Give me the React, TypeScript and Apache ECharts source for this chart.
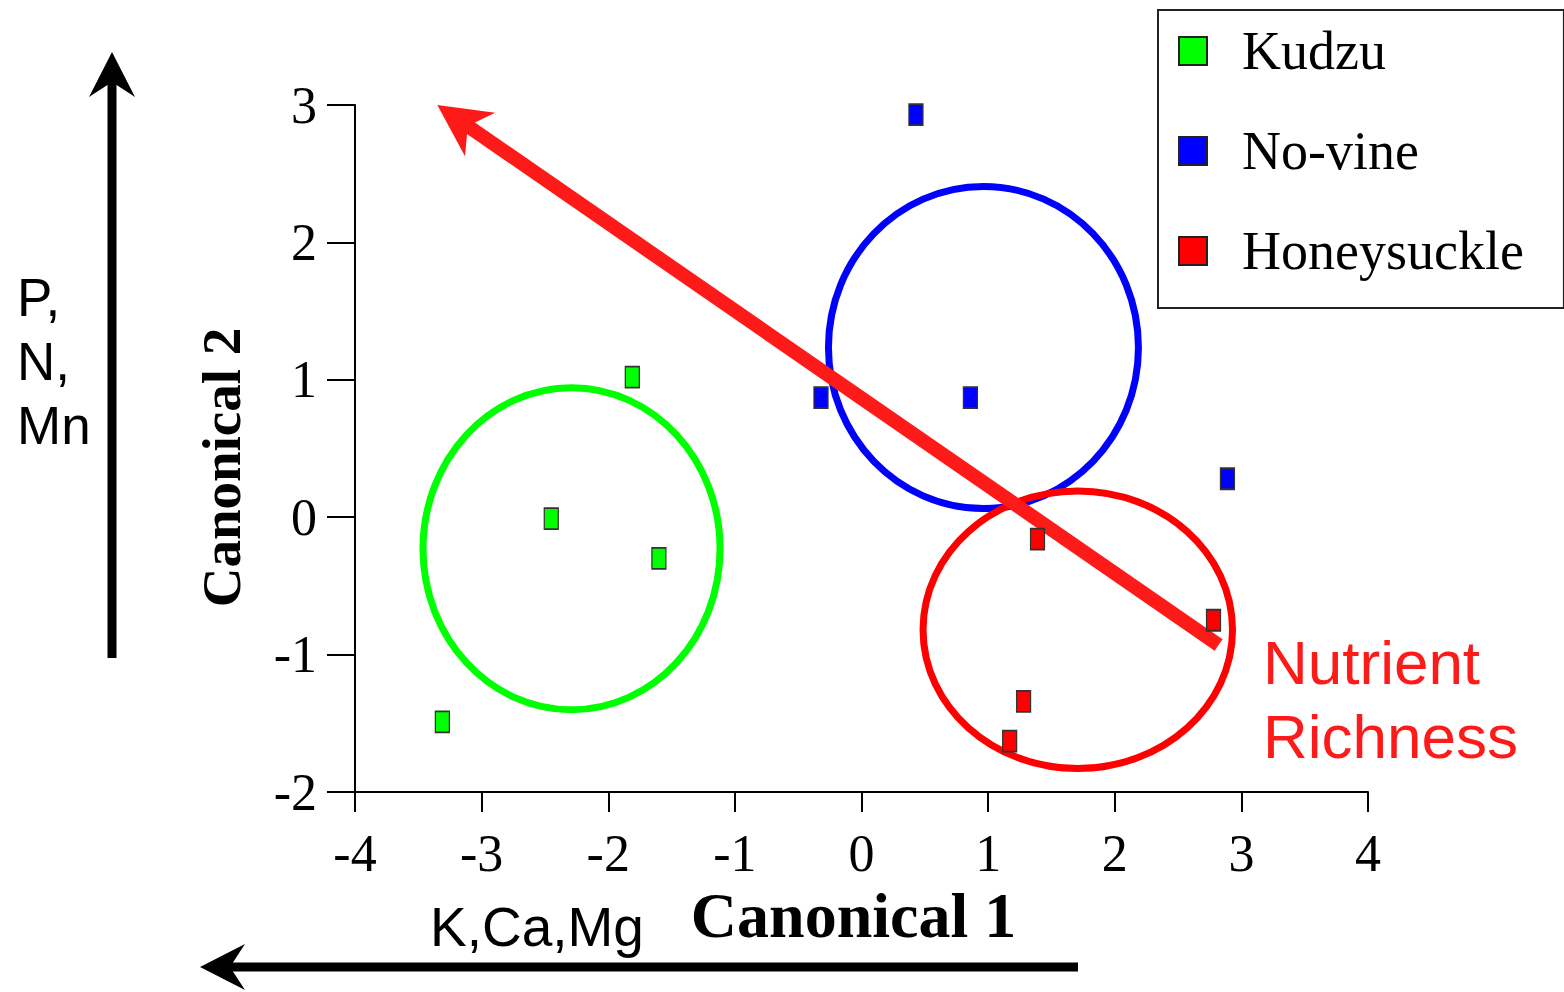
import React, { useEffect, useRef } from "react";
import * as echarts from "echarts";

// ---- data ----
const seriesNames = ["Kudzu", "No-vine", "Honeysuckle"];
const seriesColors = ["#00ff00", "#0000ff", "#ff0000"];

const kudzu = [
  [-1.81, 1.02],
  [-2.45, -0.01],
  [-1.6, -0.3],
  [-3.31, -1.49],
];
const noVine = [
  [0.43, 2.93],
  [-0.32, 0.87],
  [0.86, 0.87],
  [2.89, 0.28],
];
const honeysuckle = [
  [1.39, -0.16],
  [2.78, -0.75],
  [1.28, -1.34],
  [1.17, -1.63],
];

// group ellipses: [centerX, centerY, radiusX, radiusY] in data units
const groupEllipses = [
  [-2.29, -0.23, 1.173, 1.172],
  [0.963, 1.235, 1.224, 1.172],
  [1.708, -0.819, 1.222, 1.01],
];

// nutrient-richness vector: [fromX, fromY, toX, toY]
const nutrientVector = [[2.82, -0.93, -3.35, 3.0]];

const xMin = -4;
const xMax = 4;
const yMin = -2;
const yMax = 3;

const SERIF = '"Liberation Serif", "Times New Roman", Times, serif';
const SANS = '"Liberation Sans", Arial, Helvetica, sans-serif';
const VECTOR_RED = "#ff1a1a";

export default function App() {
  const ref = useRef<HTMLDivElement>(null);

  useEffect(() => {
    if (!ref.current) return;
    const chart = echarts.init(ref.current, null, { renderer: "svg" });

    const scatter = (name: string, data: number[][], color: string) => ({
      name,
      type: "scatter",
      data,
      symbol: "rect",
      symbolSize: [14, 21],
      z: 5,
      itemStyle: { color, borderColor: "#333333", borderWidth: 1.5, opacity: 1 },
    });

    const option: any = {
      animation: false,
      backgroundColor: "#ffffff",
      grid: { left: 355, right: 196, top: 105, bottom: 200, containLabel: false },
      legend: {
        data: seriesNames,
        orient: "vertical",
        left: 1158,
        top: 10,
        padding: [14, 40, 30, 20],
        itemGap: 46,
        itemWidth: 28,
        itemHeight: 28,
        icon: "rect",
        borderColor: "#222222",
        borderWidth: 2,
        itemStyle: { borderColor: "#222222", borderWidth: 2 },
        textStyle: {
          fontFamily: SERIF,
          fontSize: 54,
          lineHeight: 54,
          color: "#000000",
          padding: [0, 0, 0, 30],
        },
      },
      xAxis: {
        type: "value",
        min: xMin,
        max: xMax,
        interval: 1,
        name: "Canonical 1",
        nameLocation: "middle",
        nameGap: 86,
        nameTextStyle: {
          fontFamily: SERIF,
          fontWeight: "bold",
          fontSize: 64,
          color: "#000000",
          padding: [0, 16, 0, 0],
        },
        splitLine: { show: false },
        axisLine: { show: true, onZero: false, lineStyle: { color: "#000000", width: 2 } },
        axisTick: { show: true, inside: false, length: 20, lineStyle: { color: "#000000", width: 2 } },
        axisLabel: { margin: 35, fontFamily: SERIF, fontSize: 52, color: "#000000" },
      },
      yAxis: {
        type: "value",
        min: yMin,
        max: yMax,
        interval: 1,
        name: "Canonical 2",
        nameLocation: "middle",
        nameRotate: 90,
        nameGap: 106,
        nameTextStyle: {
          fontFamily: SERIF,
          fontWeight: "bold",
          fontSize: 55,
          color: "#000000",
          padding: [0, 38, 0, 0],
        },
        splitLine: { show: false },
        axisLine: { show: true, onZero: false, lineStyle: { color: "#000000", width: 2 } },
        axisTick: { show: true, inside: false, length: 28, lineStyle: { color: "#000000", width: 2 } },
        axisLabel: { margin: 38, fontFamily: SERIF, fontSize: 52, color: "#000000" },
      },
      series: [
        {
          name: "ellipses",
          type: "custom",
          z: 2,
          clip: false,
          silent: true,
          data: groupEllipses.map((e, i) => [...e, i]),
          encode: { x: 0, y: 1 },
          renderItem: (params: any, api: any) => {
            const c = api.coord([api.value(0), api.value(1)]);
            const s = api.size([api.value(2), api.value(3)]);
            const idx = api.value(4);
            return {
              type: "ellipse",
              shape: { cx: c[0], cy: c[1], rx: s[0], ry: s[1] },
              style: { fill: "none", stroke: seriesColors[idx], lineWidth: 7 },
            };
          },
        },
        {
          name: "vector",
          type: "custom",
          z: 3,
          clip: false,
          silent: true,
          data: nutrientVector,
          encode: { x: [0, 2], y: [1, 3] },
          renderItem: (params: any, api: any) => {
            const p1 = api.coord([api.value(0), api.value(1)]);
            const p2 = api.coord([api.value(2), api.value(3)]);
            const dx = p2[0] - p1[0];
            const dy = p2[1] - p1[1];
            const len = Math.hypot(dx, dy);
            const ux = dx / len;
            const uy = dy / len;
            const nx = -uy;
            const ny = ux;
            const L = 52;
            const H = 26.5;
            const N = 37;
            const notch = [p2[0] - ux * N, p2[1] - uy * N];
            const base = [p2[0] - ux * L, p2[1] - uy * L];
            const shaftEnd = [p2[0] - ux * (N - 4), p2[1] - uy * (N - 4)];
            return {
              type: "group",
              children: [
                {
                  type: "polyline",
                  shape: { points: [p1, shaftEnd] },
                  style: { stroke: VECTOR_RED, lineWidth: 14, fill: "none", lineCap: "butt" },
                },
                {
                  type: "polygon",
                  shape: {
                    points: [
                      p2,
                      [base[0] + nx * H, base[1] + ny * H],
                      notch,
                      [base[0] - nx * H, base[1] - ny * H],
                    ],
                  },
                  style: { fill: VECTOR_RED, stroke: "none" },
                },
              ],
            };
          },
        },
        scatter(seriesNames[0], kudzu, seriesColors[0]),
        scatter(seriesNames[1], noVine, seriesColors[1]),
        scatter(seriesNames[2], honeysuckle, seriesColors[2]),
      ],
      graphic: [
        // vertical black arrow (P, N, Mn)
        {
          type: "line",
          shape: { x1: 112, y1: 658, x2: 112, y2: 80 },
          style: { stroke: "#000000", lineWidth: 9 },
        },
        {
          type: "polygon",
          shape: { points: [[112, 52], [135, 97], [112, 82], [89, 97]] },
          style: { fill: "#000000" },
        },
        {
          type: "text",
          left: 17,
          top: 265,
          style: {
            text: "P,\nN,\nMn",
            fontFamily: SANS,
            fontSize: 53,
            lineHeight: 64,
            fill: "#000000",
          },
        },
        // horizontal black arrow (K, Ca, Mg)
        {
          type: "line",
          shape: { x1: 1078, y1: 967, x2: 228, y2: 967 },
          style: { stroke: "#000000", lineWidth: 9 },
        },
        {
          type: "polygon",
          shape: { points: [[200, 967], [245, 944], [230, 967], [245, 990]] },
          style: { fill: "#000000" },
        },
        {
          type: "text",
          left: 430,
          top: 897,
          style: {
            text: "K,Ca,Mg",
            fontFamily: SANS,
            fontSize: 55,
            lineHeight: 60,
            fill: "#000000",
          },
        },
        // vector label
        {
          type: "text",
          left: 1263,
          top: 625,
          style: {
            text: "Nutrient\nRichness",
            fontFamily: SANS,
            fontSize: 62,
            lineHeight: 74,
            fill: VECTOR_RED,
          },
        },
      ],
    };

    chart.setOption(option);
    return () => {
      chart.dispose();
    };
  }, []);

  return (
    <div
      ref={ref}
      style={{ position: "fixed", left: 0, top: 0, width: 1564, height: 992, background: "#ffffff" }}
    />
  );
}
